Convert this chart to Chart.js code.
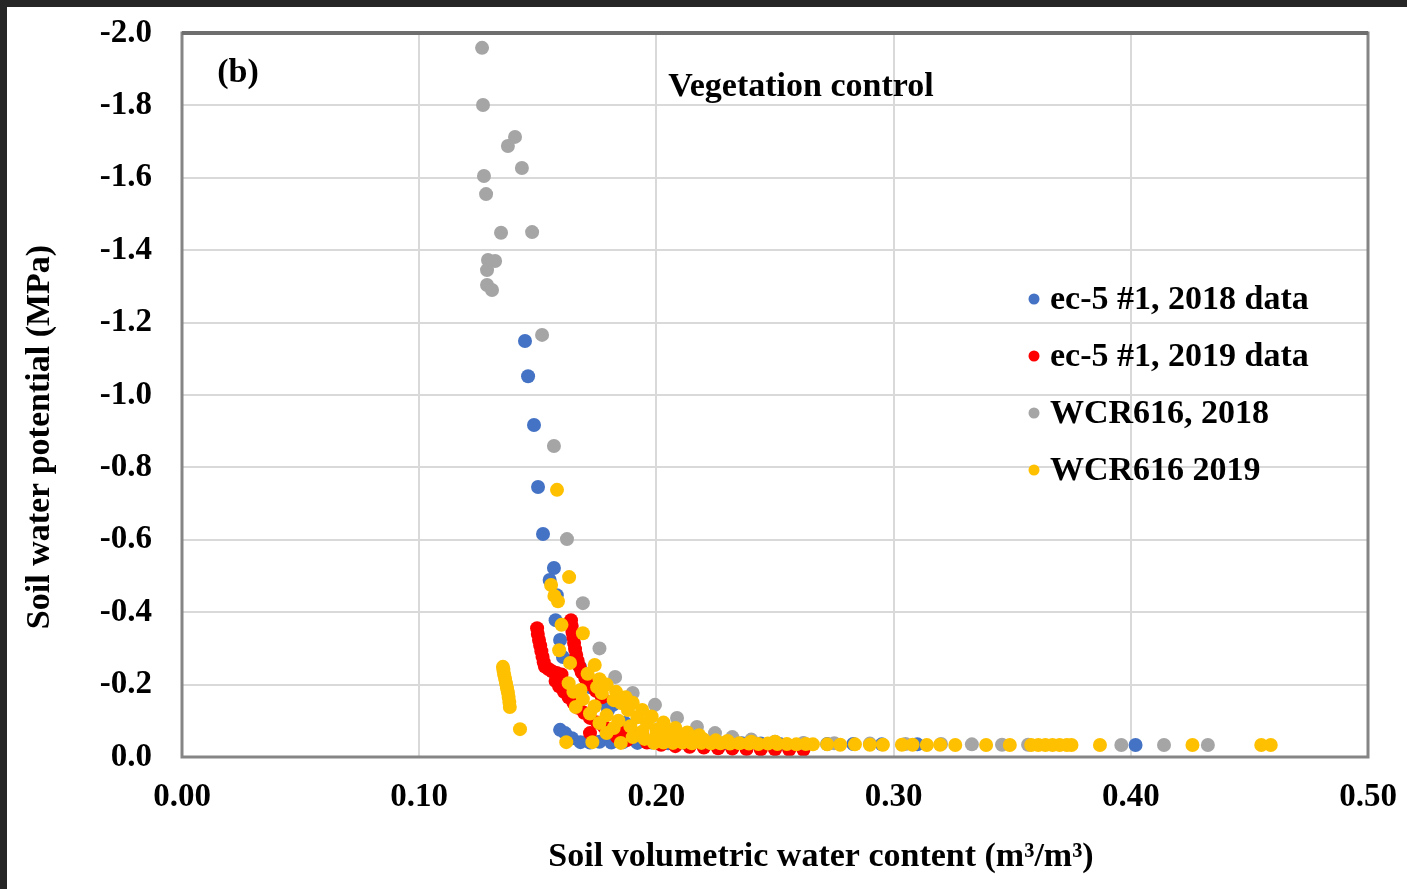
<!DOCTYPE html>
<html>
<head>
<meta charset="utf-8">
<script src="https://cdn.jsdelivr.net/npm/chart.js@4.4.1/dist/chart.umd.min.js"></script>
<style>
html, body { margin: 0; padding: 0; background: #262626; }
#wrap { position: absolute; left: 7px; top: 7px; width: 1400px; height: 882px; background: #fff; }
</style>
</head>
<body>
<div id="wrap"><canvas id="swrc"></canvas></div>
<script>
const ctx = document.getElementById('swrc');

let seriesNames = ['ec-5 #1, 2018 data', 'ec-5 #1, 2019 data', 'WCR616, 2018', 'WCR616 2019'];
let seriesColors = ['#4472C4', '#FF0000', '#A5A5A5', '#FFC000'];

let xTicks = [0.0, 0.1, 0.2, 0.3, 0.4, 0.5];
let yTicks = [-2.0, -1.8, -1.6, -1.4, -1.2, -1.0, -0.8, -0.6, -0.4, -0.2, 0.0];

// ec-5 #1, 2018
let ec5_2018_x = [0.1446, 0.1459, 0.1484, 0.1501, 0.1522, 0.1568, 0.1550, 0.1580, 0.1575, 0.1594, 0.1606, 0.1678, 0.1720, 0.1783, 0.1796, 0.1817, 0.1868, 0.1594, 0.1615, 0.1644, 0.1680, 0.172, 0.176, 0.181, 0.186, 0.192, 0.198, 0.205, 0.212, 0.220, 0.228, 0.236, 0.244, 0.252, 0.262, 0.272, 0.283, 0.295, 0.310, 0.402];
let ec5_2018_y = [-1.149, -1.052, -0.917, -0.746, -0.616, -0.522, -0.489, -0.447, -0.378, -0.323, -0.276, -0.249, -0.193, -0.149, -0.130, -0.144, -0.094, -0.075, -0.066, -0.052, -0.041, -0.040, -0.042, -0.040, -0.041, -0.039, -0.040, -0.038, -0.039, -0.038, -0.037, -0.038, -0.037, -0.036, -0.037, -0.036, -0.036, -0.035, -0.035, -0.033];

// ec-5 #1, 2019 (two branches + the bottom run)
let ec5_2019_x = [0.1497, 0.1500, 0.1505, 0.1510, 0.1515, 0.1520, 0.1525, 0.1530, 0.1545, 0.1560, 0.1580, 0.1600,
    0.1575, 0.1590, 0.1610, 0.1630, 0.1650, 0.1670, 0.1695, 0.1720, 0.1750, 0.1780, 0.1810, 0.1847, 0.1880, 0.1900, 0.1940,
    0.1640, 0.1643, 0.1646, 0.1650, 0.1653, 0.1657, 0.1662, 0.1668, 0.1675, 0.1685, 0.1700, 0.1720, 0.1745, 0.1770,
    0.1720, 0.1834, 0.1876, 0.196, 0.202, 0.208, 0.214, 0.220, 0.226, 0.232, 0.238, 0.244, 0.250, 0.256, 0.262];
let ec5_2019_y = [-0.356, -0.340, -0.323, -0.308, -0.292, -0.277, -0.262, -0.250, -0.243, -0.237, -0.232, -0.228,
    -0.210, -0.195, -0.180, -0.165, -0.150, -0.136, -0.122, -0.108, -0.095, -0.083, -0.074, -0.069, -0.066, -0.066, -0.066,
    -0.378, -0.362, -0.345, -0.330, -0.315, -0.298, -0.282, -0.266, -0.250, -0.234, -0.218, -0.200, -0.183, -0.165,
    -0.066, -0.055, -0.047, -0.040, -0.034, -0.030, -0.028, -0.026, -0.024, -0.023, -0.022, -0.021, -0.021, -0.020, -0.020];

// WCR616, 2018
let wcr_2018_x = [0.1265, 0.1269, 0.1404, 0.1374, 0.1433, 0.1273, 0.1282, 0.1345, 0.1476, 0.1290, 0.1320, 0.1286, 0.1286, 0.1307, 0.1518, 0.1568, 0.1623, 0.1690, 0.1760, 0.1826, 0.1900, 0.1994, 0.2087, 0.2171, 0.2247, 0.232, 0.240, 0.250, 0.262, 0.275, 0.290, 0.305, 0.320, 0.333, 0.3457, 0.3567, 0.3960, 0.4140, 0.4325];
let wcr_2018_y = [-1.959, -1.801, -1.713, -1.688, -1.627, -1.605, -1.555, -1.448, -1.450, -1.373, -1.370, -1.345, -1.304, -1.290, -1.166, -0.859, -0.602, -0.425, -0.300, -0.221, -0.177, -0.144, -0.108, -0.083, -0.066, -0.055, -0.048, -0.042, -0.039, -0.038, -0.037, -0.036, -0.036, -0.035, -0.034, -0.034, -0.033, -0.033, -0.033];

// WCR616 2019
let wcr_2019_x = [0.1353, 0.1355, 0.1358, 0.1362, 0.1366, 0.1370, 0.1374, 0.1377, 0.1380, 0.1382, 0.1425,
    0.1581, 0.1632, 0.1556, 0.1570, 0.1585, 0.1600, 0.1690, 0.1590, 0.1636, 0.1740, 0.1630, 0.1680, 0.1750, 0.1770, 0.1820, 0.1850, 0.1880, 0.1920, 0.1960, 0.2000,
    0.1660, 0.1720, 0.1760, 0.1820, 0.1790, 0.1620, 0.1730, 0.1850, 0.1900, 0.1950, 0.1990,
    0.1710, 0.1760, 0.1790, 0.1830, 0.1870, 0.1900, 0.1940, 0.1980, 0.2030, 0.2080, 0.2130, 0.2180,
    0.1650, 0.1690, 0.1740, 0.1790, 0.1840, 0.1890, 0.1940, 0.2000,
    0.205, 0.210, 0.215, 0.220, 0.225, 0.230, 0.240, 0.250,
    0.203, 0.207, 0.211, 0.215, 0.219, 0.223, 0.227, 0.231, 0.235, 0.239, 0.243, 0.247, 0.251, 0.255, 0.259, 0.263, 0.266, 0.272, 0.2775, 0.2837, 0.290, 0.2955,
    0.3035, 0.308, 0.314, 0.3196, 0.326, 0.339, 0.349, 0.358, 0.361, 0.364, 0.367, 0.370, 0.373, 0.375, 0.387, 0.426, 0.455, 0.459];
let wcr_2019_y = [-0.249, -0.240, -0.228, -0.216, -0.203, -0.190, -0.178, -0.166, -0.152, -0.138, -0.077,
    -0.738, -0.497, -0.475, -0.445, -0.430, -0.365, -0.342, -0.295, -0.260, -0.254, -0.204, -0.185, -0.193, -0.177, -0.157, -0.149, -0.130, -0.110, -0.094, -0.075,
    -0.138, -0.120, -0.094, -0.080, -0.066, -0.041, -0.041, -0.039, -0.055, -0.050, -0.039,
    -0.230, -0.215, -0.200, -0.180, -0.165, -0.150, -0.130, -0.112, -0.095, -0.080, -0.068, -0.060,
    -0.180, -0.160, -0.140, -0.115, -0.100, -0.085, -0.070, -0.060,
    -0.065, -0.058, -0.052, -0.048, -0.046, -0.044, -0.042, -0.042,
    -0.040, -0.039, -0.040, -0.038, -0.039, -0.038, -0.038, -0.037, -0.038, -0.037, -0.036, -0.037, -0.036, -0.036, -0.035, -0.036, -0.035, -0.035, -0.034, -0.035, -0.034, -0.034,
    -0.034, -0.034, -0.033, -0.034, -0.033, -0.033, -0.033, -0.033, -0.033, -0.033, -0.033, -0.033, -0.033, -0.033, -0.033, -0.033, -0.033, -0.033];

const toPoints = (xs, ys) => xs.map((x, i) => ({ x: x, y: ys[i] }));

const serif = "'Liberation Serif', 'Times New Roman', serif";

// yellow sits on top like in excel, so lower order for later series
const data = {
    datasets: [
        { label: seriesNames[0], data: toPoints(ec5_2018_x, ec5_2018_y), backgroundColor: seriesColors[0], order: 3 },
        { label: seriesNames[1], data: toPoints(ec5_2019_x, ec5_2019_y), backgroundColor: seriesColors[1], order: 2 },
        { label: seriesNames[2], data: toPoints(wcr_2018_x, wcr_2018_y), backgroundColor: seriesColors[2], order: 1 },
        { label: seriesNames[3], data: toPoints(wcr_2019_x, wcr_2019_y), backgroundColor: seriesColors[3], order: 0 }
    ]
};

// frame, labels, titles and the in-plot legend
const extras = {
    id: 'extras',
    afterDraw(chart) {
        const c = chart.ctx;
        const a = chart.chartArea;
        c.save();
        c.strokeStyle = '#858585';
        c.lineWidth = 3;
        c.strokeRect(a.left, a.top, a.right - a.left, a.bottom - a.top);
        // top edge looks heavier in the original
        c.strokeStyle = '#6e6e6e';
        c.lineWidth = 4;
        c.beginPath();
        c.moveTo(a.left, a.top);
        c.lineTo(a.right, a.top);
        c.stroke();

        c.fillStyle = '#000';
        c.font = 'bold 34px ' + serif;
        c.textAlign = 'center';
        c.textBaseline = 'middle';
        c.fillText('(b)', 231, 66);
        c.fillText('Vegetation control', 794, 80);
        c.fillText('Soil volumetric water content (m\u00B3/m\u00B3)', 814, 850);

        c.save();
        c.translate(33, 430);
        c.rotate(-Math.PI / 2);
        c.fillText('Soil water potential (MPa)', 0, 0);
        c.restore();

        // legend
        let ly = [292, 349, 406, 463];
        c.textAlign = 'left';
        seriesNames.forEach((name, i) => {
            c.fillStyle = seriesColors[i];
            c.beginPath();
            c.arc(1027, ly[i], 5.5, 0, Math.PI * 2);
            c.fill();
            c.fillStyle = '#000';
            c.fillText(name, 1043, ly[i] + 1);
        });
        c.restore();
    }
};

new Chart(ctx, {
    type: 'scatter',
    data: data,
    plugins: [extras],
    options: {
        responsive: true,
        maintainAspectRatio: false,
        animation: false,
        layout: { padding: { left: 0, right: 39, top: 26, bottom: 0 } },
        elements: { point: { radius: 7, borderWidth: 0, hoverRadius: 7 } },
        scales: {
            x: {
                type: 'linear',
                min: 0,
                max: 0.5,
                // fixed box so the plot area lands where the original has it
                afterFit: s => { s.height = 132; s.paddingLeft = 0; s.paddingRight = 0; },
                afterBuildTicks: s => { s.ticks = xTicks.map(v => ({ value: v })); },
                ticks: {
                    padding: 21,
                    color: '#000',
                    font: { family: serif, size: 33, weight: 'bold' },
                    callback: v => v.toFixed(2)
                },
                grid: { color: '#d9d9d9', lineWidth: 2, drawTicks: false },
                border: { display: false }
            },
            y: {
                type: 'linear',
                min: -2,
                max: 0,
                reverse: true,
                afterFit: s => { s.width = 175; s.paddingTop = 0; s.paddingBottom = 0; },
                afterBuildTicks: s => { s.ticks = yTicks.map(v => ({ value: v })); },
                ticks: {
                    padding: 30,
                    color: '#000',
                    font: { family: serif, size: 33, weight: 'bold' },
                    callback: v => v.toFixed(1)
                },
                grid: { color: '#d9d9d9', lineWidth: 2, drawTicks: false },
                border: { display: false }
            }
        },
        plugins: {
            legend: { display: false },
            tooltip: { enabled: false }
        }
    }
});
</script>
</body>
</html>
